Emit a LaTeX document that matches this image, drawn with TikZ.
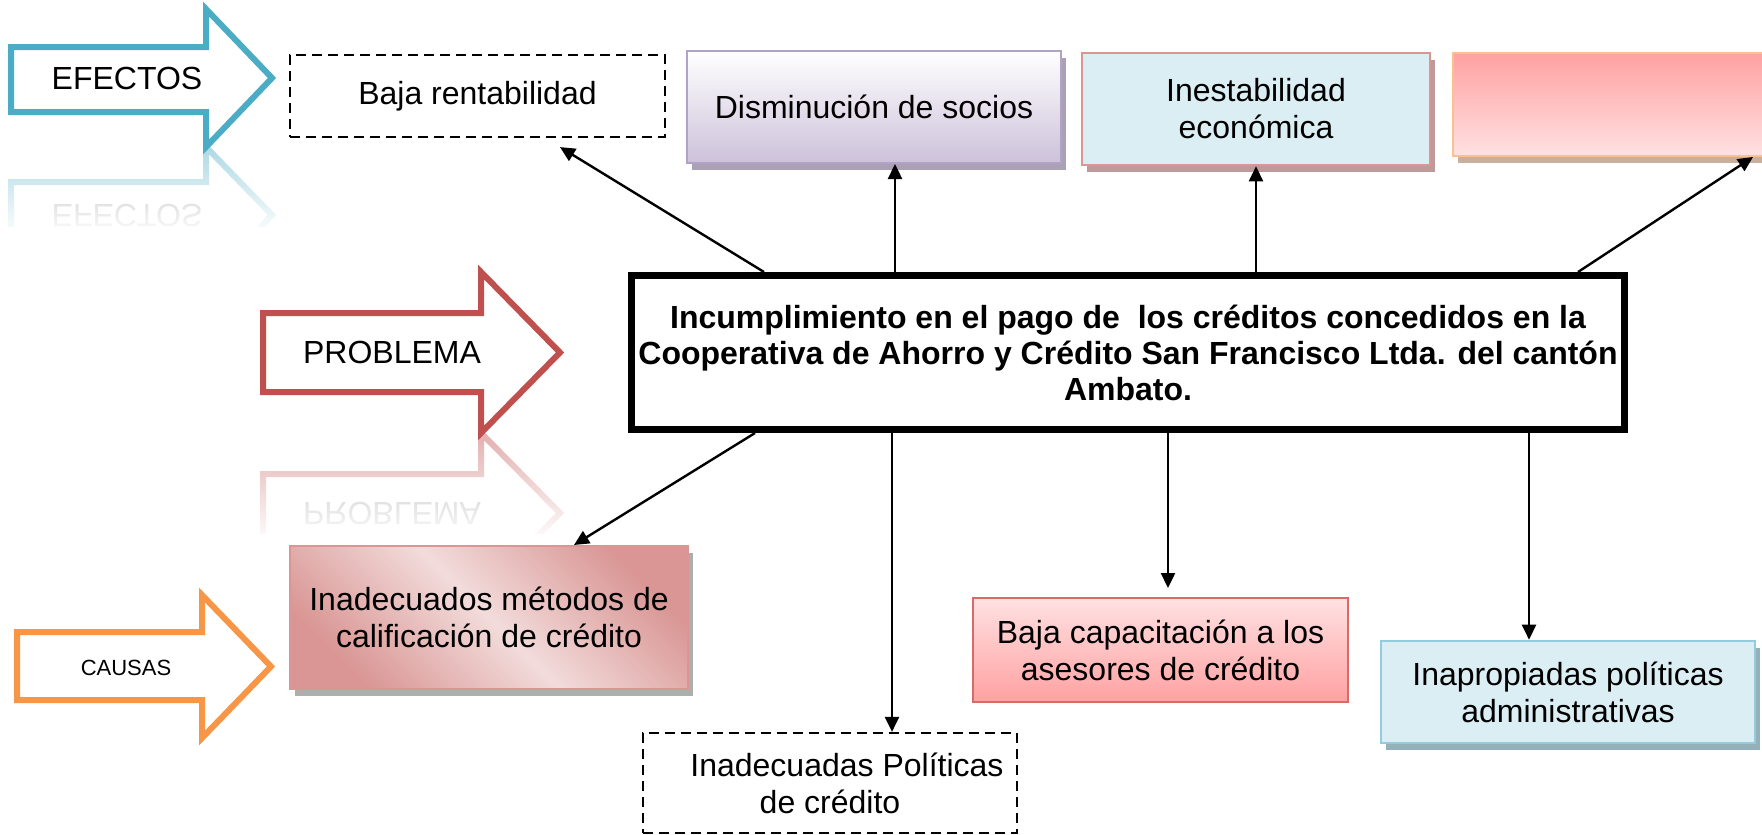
\documentclass[tikz,border=0pt]{standalone}
\usepackage{fontspec}
\setmainfont{Liberation Sans}
\usepackage{tikz}
\usetikzlibrary{arrows.meta,calc,positioning,shadows,fadings}

\definecolor{efectoazul}{HTML}{4BACC6}
\definecolor{problemarojo}{HTML}{C0504D}
\definecolor{causanaranja}{HTML}{F79646}
\definecolor{lila}{HTML}{CCC1DA}
\definecolor{lilaborde}{HTML}{B3A2C7}
\definecolor{celeste}{HTML}{DBEEF4}
\definecolor{celesteborde}{HTML}{93CDDD}
\definecolor{rosaborde}{HTML}{D99694}
\definecolor{rosaclaro}{HTML}{F2DCDB}
\definecolor{salmon}{HTML}{FFA1A1}
\definecolor{salmonclaro}{HTML}{FFE1E2}
\definecolor{durazno}{HTML}{FAC090}
\definecolor{capacborde}{HTML}{D86A68}

\tikzfading[name=reflejo, top color=transparent!100, middle color=transparent!25, bottom color=transparent!0]

\tikzset{
    %Define standard arrow tip
    >={Triangle[length=7.5pt,width=7pt]},
    %Define style for the block arrows
    bloque/.style={
           line width=3pt,
           line join=miter,
           fill=white},
    rotulo/.style={
           inner sep=0pt,
           font=\fontsize{16}{18.5}\selectfont},
    %Define style for boxes
    caja/.style={
           rectangle,
           draw, line width=1pt,
           inner sep=2pt,
           align=center,
           font=\fontsize{16}{18.5}\selectfont},
    punteada/.style={
           caja,
           draw=black, line width=1.1pt,
           dash pattern=on 5pt off 3pt},
    central/.style={
           rectangle,
           draw=black, line width=3.5pt,
           fill=white,
           align=center,
           font=\bfseries\fontsize{16}{18}\selectfont},
    socio/.style={
           caja, draw=lilaborde,
           top color=white, bottom color=lila,
           drop shadow={shadow xshift=2.5pt, shadow yshift=-3.5pt,
                        fill=lilaborde!75!black, opacity=.7}},
    inestable/.style={
           caja, draw=rosaborde, line width=1.3pt,
           fill=celeste,
           drop shadow={shadow xshift=2.5pt, shadow yshift=-3.5pt,
                        fill=rosaborde!75!black, opacity=.7}},
    vacia/.style={
           caja, draw=durazno,
           top color=salmon, bottom color=salmonclaro,
           drop shadow={shadow xshift=2.5pt, shadow yshift=-3.5pt,
                        fill=durazno!65!black, opacity=.6}},
    metodo/.style={
           caja, draw=rosaborde,
           top color=rosaborde, bottom color=rosaborde, middle color=rosaclaro,
           shading angle=-45,
           drop shadow={shadow xshift=2.5pt, shadow yshift=-3.5pt,
                        fill=black!45, opacity=.7}},
    capacita/.style={
           caja, draw=capacborde,
           top color=salmonclaro, bottom color=salmon},
    inapropiada/.style={
           caja, draw=celesteborde, line width=1.3pt,
           fill=celeste,
           drop shadow={shadow xshift=2.5pt, shadow yshift=-3.5pt,
                        fill=celesteborde!70!black, opacity=.7}},
    % Define arrow style
    enlace/.style={
           ->,
           line width=1.2pt}
}

\begin{document}
\begin{tikzpicture}[x=0.5pt,y=-0.5pt]
\useasboundingbox (0,0) rectangle (1762,835);

% reflections
\begin{scope}
  \clip (0,147) rectangle (300,226);
  \draw[bloque, draw=efectoazul!45!white] (11,182) -- (206,182) -- (206,147) -- (272,215)
       -- (206,285) -- (206,247) -- (11,247) -- cycle;
  \node[rotulo, text=black!30] (efectosr) at (127,216) {\scalebox{1}[-1]{EFECTOS}};
  \fill[white, path fading=reflejo] (0,147) rectangle (300,236);
\end{scope}
\begin{scope}
  \clip (250,433) rectangle (580,533);
  \draw[bloque, draw=problemarojo!45!white] (263,474) -- (481,474) -- (481,433) -- (560,513)
       -- (481,594) -- (481,553) -- (263,553) -- cycle;
  \node[rotulo, text=black!30] (problemar) at (392,514) {\scalebox{1}[-1]{PROBLEMA}};
  \fill[white, path fading=reflejo] (250,433) rectangle (580,543);
\end{scope}

% block arrows
\draw[bloque, draw=efectoazul] (11,47) -- (206,47) -- (206,9) -- (272,78)
     -- (206,147) -- (206,112) -- (11,112) -- cycle;
\node[rotulo] (efectos) at (127,78) {EFECTOS};
\draw[bloque, draw=problemarojo] (263,313) -- (481,313) -- (481,272) -- (560,352.5)
     -- (481,433) -- (481,392) -- (263,392) -- cycle;
\node[rotulo] (problema) at (392,352) {PROBLEMA};
\draw[bloque, draw=causanaranja] (17,632) -- (202,632) -- (202,595) -- (271,666.5)
     -- (202,738) -- (202,700) -- (17,700) -- cycle;
\node[rotulo, font=\fontsize{11}{13}\selectfont] (causas) at (126,668) {CAUSAS};

% effects
\node[punteada, minimum width=187.5pt, minimum height=41pt] (rent) at (477.5,96) {Baja rentabilidad};
\node[socio, minimum width=187pt, minimum height=56pt] (socios) at (874,107) {Disminución de socios};
\node[inestable, minimum width=174pt, minimum height=56pt] (inest) at (1256,109) {Inestabilidad\\económica};
\node[vacia, minimum width=173.5pt, minimum height=51.5pt] (vacio) at (1626.5,104.5) {};

% problem
\node[central, minimum width=491.5pt, minimum height=77pt] (prob) at (1128,352.5)
  {Incumplimiento en el pago de\ \ los créditos concedidos en la\\
   Cooperativa de Ahorro y Crédito San Francisco Ltda. del cantón\\Ambato.};

% causes
\node[metodo, minimum width=199pt, minimum height=71.5pt] (metodos) at (489,617.5)
  {Inadecuados métodos de\\calificación de crédito};
\node[punteada, minimum width=187pt, minimum height=50pt] (politicas) at (830,783)
  {\hspace*{1.06em}Inadecuadas Políticas\\de crédito};
\node[capacita, minimum width=187.5pt, minimum height=52pt] (capac) at (1160.5,650)
  {Baja capacitación a los\\asesores de crédito};
\node[inapropiada, minimum width=187pt, minimum height=51pt] (inapro) at (1568,692)
  {Inapropiadas políticas\\administrativas};

\path[enlace]
    (prob.north -| 764,0) edge ($(rent.south)+(82.5,9)$)
    (prob.north -| 895,0) edge (socios.south -| 895,0)
    (prob.north -| 1256,0) edge (inest.south)
    (prob.north -| 1578,0) edge (vacio.south -| 1753,0)
    (prob.south -| 755,0) edge (metodos.north -| 574,0)
    (prob.south -| 892,0) edge (politicas.north -| 892,0)
    (prob.south -| 1168,0) edge ($(capac.north -| 1168,0)+(0,-9)$)
    (prob.south -| 1529,0) edge (inapro.north -| 1529,0);
\end{tikzpicture}
\end{document}
